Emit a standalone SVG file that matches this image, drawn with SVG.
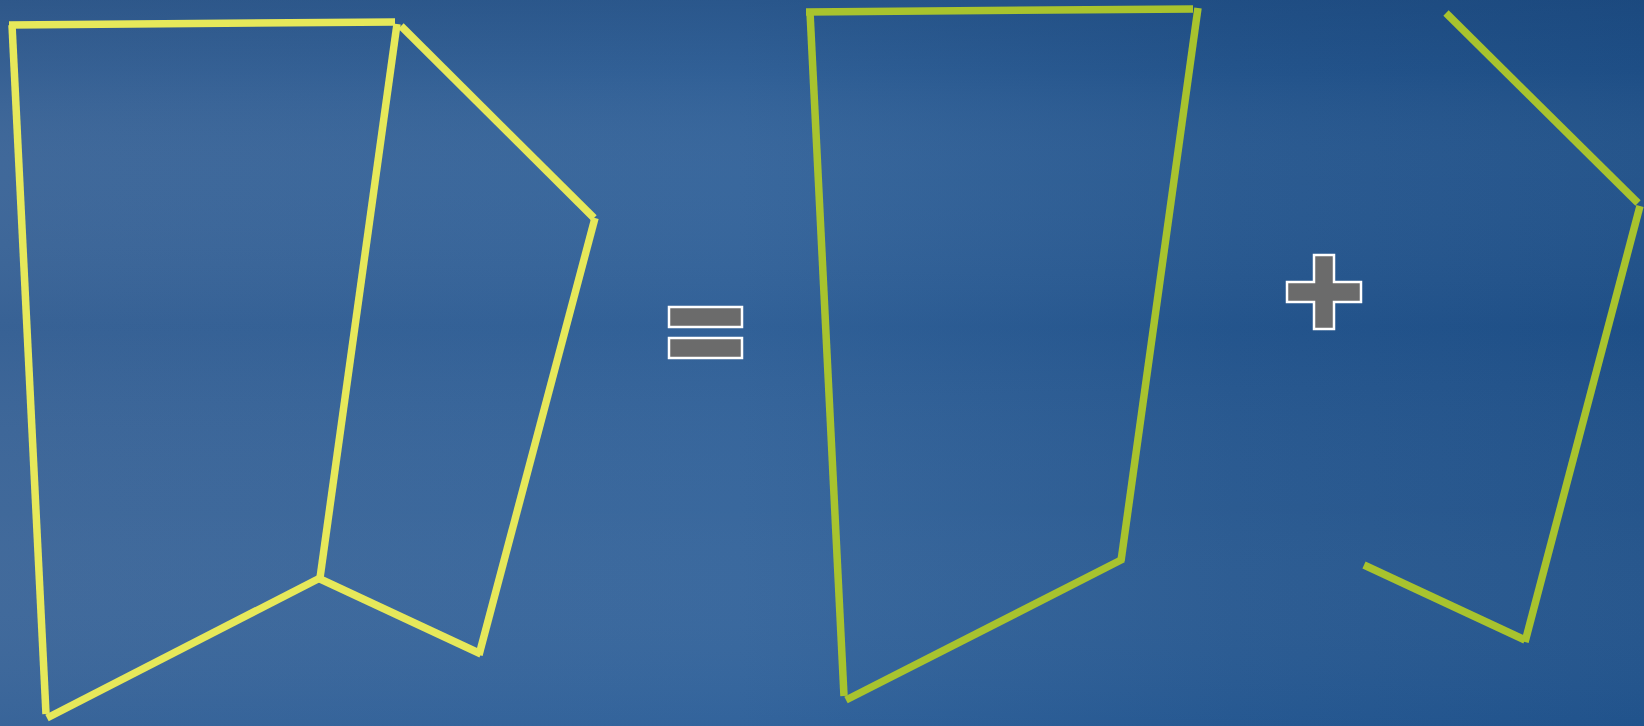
<svg xmlns="http://www.w3.org/2000/svg" width="1644" height="726" viewBox="0 0 1644 726">
<defs>
<linearGradient id="bgH" x1="0" y1="0" x2="1" y2="0">
<stop offset="0" stop-color="#3a6497"/>
<stop offset="0.45" stop-color="#33639a"/>
<stop offset="0.75" stop-color="#25568e"/>
<stop offset="1" stop-color="#1f5088"/>
</linearGradient>
<linearGradient id="bgV" x1="0" y1="0" x2="0" y2="1">
<stop offset="0" stop-color="#143a6a" stop-opacity="0.3"/>
<stop offset="0.1" stop-color="#143a6a" stop-opacity="0.08"/>
<stop offset="0.25" stop-color="#ffffff" stop-opacity="0.03"/>
<stop offset="0.45" stop-color="#0f3a70" stop-opacity="0.06"/>
<stop offset="0.7" stop-color="#ffffff" stop-opacity="0.03"/>
<stop offset="1" stop-color="#2a66a8" stop-opacity="0.12"/>
</linearGradient>
<style>
.y{stroke:#e6e85a;stroke-width:7.5;fill:none}
.g{stroke:#a8c32e;stroke-width:7.5;fill:none}
.op{fill:#6b6b6b;stroke:#ffffff;stroke-width:2.5}
</style>
</defs>
<rect width="1644" height="726" fill="url(#bgH)"/>
<rect width="1644" height="726" fill="url(#bgV)"/>
<g id="yellow-shape">
<line class="y" x1="9" y1="25" x2="395" y2="22"/>
<line class="y" x1="12" y1="25" x2="46" y2="714"/>
<line class="y" x1="47" y1="718" x2="320" y2="578"/>
<line class="y" x1="397" y1="24" x2="320" y2="578"/>
<line class="y" x1="318" y1="578" x2="481" y2="654"/>
<line class="y" x1="401" y1="26" x2="594" y2="218"/>
<line class="y" x1="595" y1="218" x2="479" y2="655"/>
</g>
<g id="equals">
<rect class="op" x="669" y="307" width="73" height="20"/>
<rect class="op" x="669" y="338" width="73" height="20"/>
</g>
<g id="green-shape-1">
<line class="g" x1="806" y1="12" x2="1193" y2="9"/>
<line class="g" x1="810" y1="12" x2="844" y2="696"/>
<line class="g" x1="846" y1="700" x2="1123" y2="559"/>
<line class="g" x1="1198" y1="8" x2="1121" y2="561"/>
</g>
<g id="plus">
<polygon class="op" points="1314,255 1334,255 1334,282 1361,282 1361,302 1334,302 1334,329 1314,329 1314,302 1287,302 1287,282 1314,282"/>
</g>
<g id="green-shape-2">
<line class="g" x1="1446" y1="13" x2="1638" y2="203"/>
<line class="g" x1="1640" y1="206" x2="1525" y2="642"/>
<line class="g" x1="1364" y1="565" x2="1525" y2="640"/>
</g>
</svg>
